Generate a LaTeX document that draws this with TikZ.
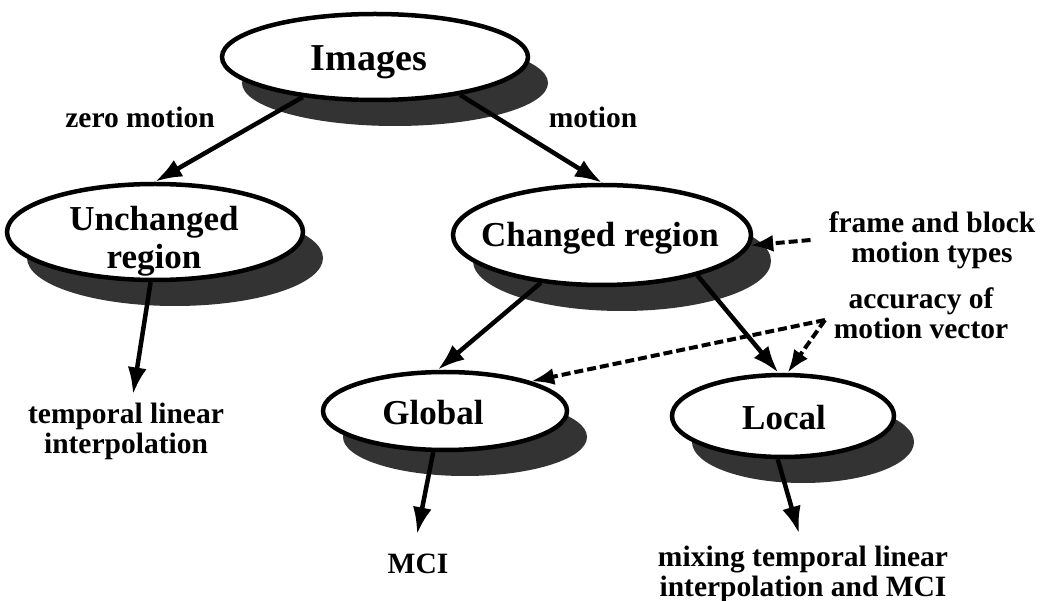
\documentclass[tikz,border=0pt]{standalone}
\usepackage{fontspec}
\setmainfont{Liberation Serif}
\usetikzlibrary{shapes.geometric,shadows,arrows.meta,calc}
\definecolor{shadowc}{gray}{0.2}
\begin{document}
\begin{tikzpicture}[x=1pt,y=-1pt,
  ell/.style={ellipse, draw=black, line width=4.5pt, fill=white, inner sep=0pt,
    drop shadow={shadow xshift=20pt, shadow yshift=-26pt, fill=shadowc, opacity=1, draw=none}},
  big/.style={font=\bfseries\fontsize{38}{40}\selectfont, inner sep=0pt},
  mid/.style={font=\bfseries\fontsize{35}{38}\selectfont, inner sep=0pt, align=center},
  lab/.style={font=\bfseries\fontsize{29.5}{30}\selectfont, inner sep=0pt, align=center},
  arr/.style={line width=4.5pt, -{Latex[length=27pt,width=19pt]}},
  darr/.style={line width=4pt, dash pattern=on 9pt off 4pt, -{Latex[length=23pt,width=17pt]}}]
\fill[white] (0,0) rectangle (1042,601);
\useasboundingbox (0,0) rectangle (1042,601);

% ellipses
\node[ell, minimum width=306pt, minimum height=86pt] (img) at (375,57) {};
\node[ell, minimum width=296pt, minimum height=96pt] (unch) at (155,232) {};
\node[ell, minimum width=298pt, minimum height=100pt] (chg) at (602,235) {};
\node[ell, minimum width=244pt, minimum height=78pt] (glob) at (445,411) {};
\node[ell, minimum width=222pt, minimum height=82pt] (loc) at (783,416) {};

% ellipse texts
\node[big, anchor=base] (imgt) at (369,71) {Images};
\node[mid] (unt) at (154,241) {Unchanged\\region};
\node[mid, anchor=base] (cht) at (600,247) {Changed region};
\node[mid, anchor=base] (glt) at (433,425) {Global};
\node[mid, anchor=base] (lct) at (784,430) {Local};

% labels
\node[lab, anchor=base] (zm) at (140,128) {zero motion};
\node[lab, anchor=base] (mo) at (593,128) {motion};
\node[lab] (frm) at (932,240) {frame and block\\motion types};
\node[lab] (acc) at (921,313) {accuracy of\\motion vector};
\node[lab] (tmp) at (126,431) {temporal linear\\interpolation};
\node[lab, anchor=base] (mci) at (418,573) {MCI};
\node[lab] (mix) at (803,574) {mixing temporal linear\\interpolation and MCI};

% solid arrows
\draw[arr] (img.209) -- (unch.north);
\draw[arr] (img.336.6) -- (chg.north);
\draw[arr] (unch.265) -- ([shift={(7,-8)}]tmp.north);
\draw[arr] (chg.218) -- (glob.100);
\draw[arr] (chg.337) -- (loc.96);
\draw[arr] (glob.254) -- ([shift={(-1,-19)}]mci.north);
\draw[arr] (loc.263) -- ([shift={(-4,-12)}]mix.north);

% dashed arrows
\draw[darr] ([xshift=-18pt]frm.west) -- (chg.356);
\coordinate (accp) at (825,320);
\draw[darr] (accp) -- (glob.19);
\draw[darr] (accp) -- (loc.84);
\end{tikzpicture}
\end{document}
